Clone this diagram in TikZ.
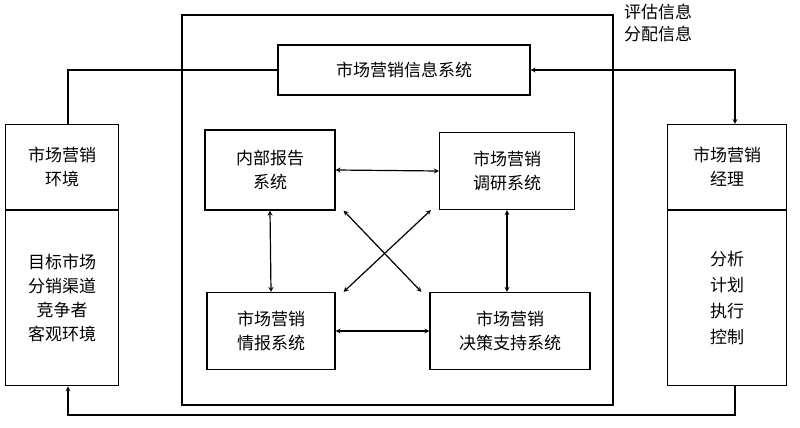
\documentclass[tikz,border=0pt]{standalone}
\usepackage{fontspec}
\setmainfont{Noto Sans CJK SC}
\usetikzlibrary{positioning}
\tikzset{
  box/.style={draw,line width=1.2pt,align=center,font=\fontsize{17}{24}\selectfont,inner sep=0pt},
  link/.style={line width=1.2pt,<->,>=stealth},
}
\begin{document}
\begin{tikzpicture}[x=1pt,y=-1pt]
\useasboundingbox (0,0) rectangle (800,428);
% frame of the system
\draw[line width=1.2pt] (182,15) rectangle (613,405);
\node[box,minimum width=252,minimum height=50] (mis) at (404,70) {市场营销信息系统};
\node[box,minimum width=130,minimum height=80] (nb) at (270,170) {内部报告\\系统};
\node[box,minimum width=135,minimum height=77] (dy) at (507,171) {市场营销\\调研系统};
\node[box,minimum width=128,minimum height=77] (qb) at (271,331) {市场营销\\情报系统};
\node[box,minimum width=160,minimum height=77] (jc) at (510,331) {市场营销\\决策支持系统};
% side boxes
\node[box,minimum width=113,minimum height=85] (hj) at (62,167) {市场营销\\环境};
\node[box,minimum width=113,minimum height=175,anchor=north] (hjb) at (hj.south) {目标市场\\分销渠道\\竞争者\\客观环境};
\node[box,minimum width=119,minimum height=85] (jl) at (727,167) {市场营销\\经理};
\node[box,minimum width=119,minimum height=175,anchor=north,font=\fontsize{17}{26}\selectfont] (jlb) at (jl.south) {分析\\计划\\执行\\控制};
\node[align=left,font=\fontsize{17}{22}\selectfont,anchor=north west,inner sep=0pt] (pg) at (624,4) {评估信息\\分配信息};
% connectors
\coordinate (c1) at (68,70);
\coordinate (c2) at (735,70);
\coordinate (c3) at (735,415);
\coordinate (c4) at (68,415);
\draw[line width=1.2pt] (mis.west) -- (c1) -- (c1 |- hj.north);
\draw[link] (mis.east) -- (c2) -- (c2 |- jl.north);
\draw[line width=1.2pt,->,>=stealth] (c3 |- jlb.south) -- (c3) -- (c4) -- (c4 |- hjb.south);
\draw[link] (nb.east) -- (dy.west);
\draw[link] (qb.east) -- (jc.west);
\draw[link] (nb.south) -- (qb.north);
\draw[link] (dy.south) -- (dy.south |- jc.north);
\draw[link] ([xshift=8]nb.south east) -- ([xshift=-8]jc.north west);
\draw[link] ([xshift=-8]dy.south west) -- ([xshift=8]qb.north east);
\end{tikzpicture}
\end{document}
